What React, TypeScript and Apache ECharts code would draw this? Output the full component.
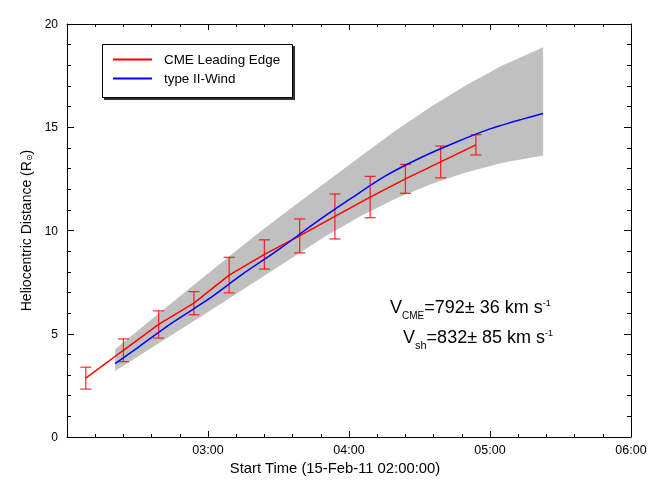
import { useEffect, useRef } from 'react'
import * as echarts from 'echarts'

// times are minutes after 15-Feb-11 02:00:00
const cmeTimes = [8, 24, 39, 54, 69, 84, 99, 114, 129, 144, 159, 174]
const cmeHeight = [2.85, 4.2, 5.45, 6.48, 7.84, 8.84, 9.74, 10.68, 11.62, 12.5, 13.32, 14.15]
const cmeError = [0.53, 0.55, 0.66, 0.56, 0.86, 0.71, 0.82, 1.09, 1.0, 0.7, 0.77, 0.49]

const windTimes = [20.5, 30, 45, 60, 75, 90, 105, 120, 135, 150, 165, 180, 195, 202.6]
const windHeight = [3.55, 4.32, 5.55, 6.66, 7.91, 9.07, 10.32, 11.49, 12.61, 13.5, 14.25, 14.92, 15.43, 15.67]

const bandTimes = [20.5, 35, 50, 65, 80, 95, 110, 125, 140, 155, 170, 185, 202.6]
const bandLow = [3.2, 4.25, 5.33, 6.42, 7.52, 8.62, 9.72, 10.7, 11.55, 12.25, 12.82, 13.27, 13.63]
const bandHigh = [4.25, 5.61, 7.0, 8.38, 9.75, 11.05, 12.33, 13.6, 14.85, 16.0, 17.05, 17.98, 18.87]

const FONT = '"Liberation Sans", Arial, Helvetica, sans-serif'

const fmtTime = (v: number) => {
  const h = 2 + Math.floor(v / 60)
  const m = Math.round(v % 60)
  return String(h).padStart(2, '0') + ':' + String(m).padStart(2, '0')
}

const makeAxis = (max: number, interval: number, len: number) => ({
  type: 'value',
  min: 0,
  max,
  interval,
  axisLine: { show: true, onZero: false, lineStyle: { color: '#000', width: 1 } },
  axisTick: { show: true, inside: true, length: len, lineStyle: { color: '#000', width: 1 } },
  minorTick: { show: true, splitNumber: 5, length: len - 3, lineStyle: { color: '#000', width: 1 } },
  splitLine: { show: false },
})

export default function App() {
  const chartRef = useRef<HTMLDivElement>(null)

  useEffect(() => {
    const chart = echarts.init(chartRef.current, null, { renderer: 'svg' })

    const barColor = 'rgba(255,0,0,0.78)'

    const option = {
      animation: false,
      textStyle: { fontFamily: FONT },
      grid: { left: 67, right: 33, top: 24, bottom: 61 },
      legend: {
        left: 102,
        top: 44,
        orient: 'vertical',
        data: ['CME Leading Edge', 'type II-Wind'],
        icon: 'rect',
        itemWidth: 39,
        itemHeight: 2,
        itemGap: 6,
        padding: [9, 11, 9, 11],
        textStyle: { fontSize: 13.4, color: '#000', fontFamily: FONT, padding: [0, 0, 0, 7] },
      },
      xAxis: [
        {
          ...makeAxis(240, 60, 6),
          position: 'bottom',
          name: 'Start Time (15-Feb-11 02:00:00)',
          nameLocation: 'middle',
          nameGap: 12,
          nameTextStyle: { fontSize: 14.8, color: '#000', fontFamily: FONT, padding: [0, 28, 0, 0] },
          axisLabel: {
            showMinLabel: false,
            margin: 6,
            fontSize: 12.5,
            color: '#000',
            fontFamily: FONT,
            formatter: fmtTime,
          },
        },
        { ...makeAxis(240, 60, 6), position: 'top', axisLabel: { show: false } },
      ],
      yAxis: [
        {
          ...makeAxis(20, 5, 7),
          position: 'left',
          name: 'Heliocentric Distance (R{sub|⊙})',
          nameLocation: 'middle',
          nameGap: 30,
          nameTextStyle: {
            fontSize: 14,
            color: '#000',
            fontFamily: FONT,
            rich: { sub: { fontSize: 8, color: '#000', fontFamily: 'DejaVu Sans', padding: [8, 0, 0, 0] } },
          },
          axisLabel: { margin: 9, fontSize: 12, color: '#000', fontFamily: FONT },
        },
        { ...makeAxis(20, 5, 7), position: 'right', axisLabel: { show: false } },
      ],
      graphic: [
        // legend frame with its drop shadow
        { type: 'rect', x: 104, y: 46, z: 2, shape: { width: 191, height: 54 }, style: { fill: '#333' } },
        {
          type: 'rect',
          x: 102.5,
          y: 44.5,
          z: 3,
          shape: { width: 190, height: 53 },
          style: { fill: '#fff', stroke: '#000', lineWidth: 1 },
        },
        {
          type: 'text',
          x: 390,
          y: 307,
          style: {
            text: '{v|V}{sub|CME}{v|=792± 36 km s}{sup|-1}',
            verticalAlign: 'middle',
            align: 'left',
            rich: {
              v: { fontSize: 18, fontFamily: FONT, fill: '#000' },
              sub: { fontSize: 10, fontFamily: FONT, fill: '#000', padding: [16, 0, 0, 0] },
              sup: { fontSize: 9, fontFamily: FONT, fill: '#000', padding: [0, 0, 8, 0] },
            },
          },
        },
        {
          type: 'text',
          x: 403,
          y: 336.5,
          style: {
            text: '{v|V}{sub|sh}{v|=832± 85 km s}{sup|-1}',
            verticalAlign: 'middle',
            align: 'left',
            rich: {
              v: { fontSize: 18, fontFamily: FONT, fill: '#000' },
              sub: { fontSize: 11, fontFamily: FONT, fill: '#000', padding: [16, 0, 0, 0] },
              sup: { fontSize: 9, fontFamily: FONT, fill: '#000', padding: [0, 0, 8, 0] },
            },
          },
        },
      ],
      series: [
        {
          type: 'custom',
          z: 1,
          silent: true,
          data: bandTimes.map((t, i) => [t, bandLow[i], bandHigh[i]]),
          encode: { x: 0, y: [1, 2] },
          renderItem: (params: any, api: any) => {
            if (params.dataIndex !== 0) return null
            const upper = bandTimes.map((t, i) => api.coord([t, bandHigh[i]]))
            const lower = bandTimes.map((t, i) => api.coord([t, bandLow[i]])).reverse()
            return {
              type: 'polygon',
              shape: { points: [...upper, ...lower] },
              style: { fill: '#c0c0c0' },
            }
          },
        },
        {
          type: 'custom',
          z: 3,
          silent: true,
          data: cmeTimes.map((t, i) => [t, cmeHeight[i] - cmeError[i], cmeHeight[i] + cmeError[i]]),
          encode: { x: 0, y: [1, 2] },
          renderItem: (_params: any, api: any) => {
            const t = api.value(0)
            const lo = api.coord([t, api.value(1)])
            const hi = api.coord([t, api.value(2)])
            const w = 5.5
            return {
              type: 'group',
              children: [
                { type: 'line', shape: { x1: lo[0], y1: lo[1], x2: hi[0], y2: hi[1] }, style: { stroke: barColor, lineWidth: 1.3 } },
                { type: 'line', shape: { x1: lo[0] - w, y1: lo[1], x2: lo[0] + w, y2: lo[1] }, style: { stroke: barColor, lineWidth: 1.3 } },
                { type: 'line', shape: { x1: hi[0] - w, y1: hi[1], x2: hi[0] + w, y2: hi[1] }, style: { stroke: barColor, lineWidth: 1.3 } },
              ],
            }
          },
        },
        {
          type: 'line',
          name: 'CME Leading Edge',
          z: 4,
          symbol: 'none',
          data: cmeTimes.map((t, i) => [t, cmeHeight[i]]),
          lineStyle: { color: '#ff0000', width: 1.5 },
          itemStyle: { color: '#ff0000' },
        },
        {
          type: 'line',
          name: 'type II-Wind',
          z: 5,
          symbol: 'none',
          smooth: 0.3,
          data: windTimes.map((t, i) => [t, windHeight[i]]),
          lineStyle: { color: '#0000ff', width: 1.5 },
          itemStyle: { color: '#0000ff' },
        },
      ],
    }

    chart.setOption(option as any)

    return () => {
      chart.dispose()
    }
  }, [])

  return <div ref={chartRef} style={{ position: 'fixed', left: 0, top: 0, width: '664px', height: '498px' }} />
}
